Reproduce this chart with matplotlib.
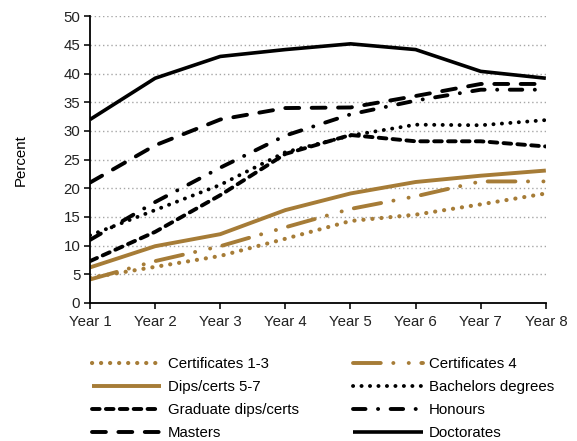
"""Доля выпускников по годам после окончания обучения"""

import matplotlib
matplotlib.use('Agg')
import matplotlib.pyplot as plt

plt.rcParams['font.family'] = ['Liberation Sans', 'DejaVu Sans']
plt.rcParams['font.size'] = 10
plt.rcParams['lines.scale_dashes'] = False

# Данные
years = ['Year 1', 'Year 2', 'Year 3', 'Year 4', 'Year 5', 'Year 6', 'Year 7', 'Year 8']
certificates_1_3 = [4.4, 6.3, 8.2, 11.2, 14.3, 15.4, 17.2, 19.1]
certificates_4 = [4.1, 7.3, 9.9, 13.2, 16.4, 18.6, 21.2, 21.2]
dips_certs_5_7 = [6.2, 9.9, 12.0, 16.2, 19.1, 21.1, 22.2, 23.1]
bachelors = [11.8, 16.2, 20.6, 26.3, 29.2, 31.1, 31.0, 31.9]
graduate_dips = [7.3, 12.4, 18.8, 26.0, 29.3, 28.2, 28.2, 27.3]
honours = [11.0, 17.6, 23.6, 29.2, 32.9, 35.3, 37.2, 37.2]
masters = [21.0, 27.5, 32.0, 34.0, 34.1, 36.1, 38.2, 38.2]
doctorates = [32.0, 39.2, 43.0, 44.2, 45.2, 44.2, 40.4, 39.2]

gold = '#A67C37'

series = [
    ('Certificates 1-3', certificates_1_3, dict(color=gold, lw=3.0, dashes=(0.1, 6.4), dash_capstyle='round')),
    ('Certificates 4', certificates_4, dict(color=gold, lw=2.8, dashes=(20, 9, 0.1, 11, 0.1, 9), dash_capstyle='round')),
    ('Dips/certs 5-7', dips_certs_5_7, dict(color=gold, lw=2.8, solid_capstyle='butt')),
    ('Bachelors degrees', bachelors, dict(color='black', lw=2.8, dashes=(0.1, 6.0), dash_capstyle='round')),
    ('Graduate dips/certs', graduate_dips, dict(color='black', lw=2.8, dashes=(5.5, 4.5), dash_capstyle='round')),
    ('Honours', honours, dict(color='black', lw=2.8, dashes=(9, 9, 0.1, 9), dash_capstyle='round')),
    ('Masters', masters, dict(color='black', lw=2.8, dashes=(10, 9), dash_capstyle='round')),
    ('Doctorates', doctorates, dict(color='black', lw=2.6, solid_capstyle='butt')),
]

fig = plt.figure(figsize=(5.77, 4.41), dpi=100)
ax = fig.add_axes([0.156, 0.313, 0.790, 0.650])

x = range(len(years))
handles = []
for label, values, style in series:
    line, = ax.plot(x, values, label=label, **style)
    handles.append(line)

ax.set_xlim(0, len(years) - 1)
ax.set_ylim(0, 50)
ax.set_yticks(range(0, 51, 5))
ax.set_xticks(list(x))
ax.set_xticklabels(years)
ax.set_ylabel('Percent', fontsize=10.8, labelpad=26)

# Пунктирная сетка
for yv in range(5, 51, 5):
    ax.axhline(yv, color='#A6A6A6', lw=1.0, dashes=(1, 2), zorder=0)

for side in ['top', 'right']:
    ax.spines[side].set_visible(False)
for side in ['left', 'bottom']:
    ax.spines[side].set_linewidth(1.3)
ax.tick_params(axis='both', direction='out', length=4, width=1.3, labelsize=10.8, colors='#222222')
ax.tick_params(axis='x', pad=5)
ax.tick_params(axis='y', pad=3)

# Легенда в две колонки
legend_kw = dict(loc='upper left', frameon=False, fontsize=10.8, handlelength=4.63,
                 handletextpad=0.43, labelspacing=0.6, borderpad=0, borderaxespad=0)
fig.legend(handles=handles[0::2], bbox_to_anchor=(0.159, 0.19), **legend_kw)
fig.legend(handles=handles[1::2], bbox_to_anchor=(0.612, 0.19), **legend_kw)

plt.savefig('out.png', dpi=100)
